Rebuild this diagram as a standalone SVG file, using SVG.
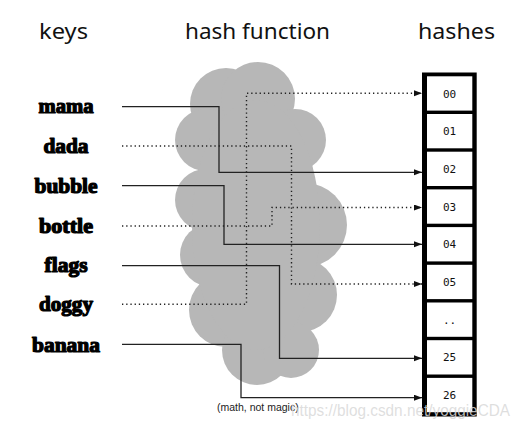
<svg xmlns="http://www.w3.org/2000/svg" width="521" height="428" viewBox="0 0 521 428">
<style>
.title{font-family:"Noto Sans","DejaVu Sans",sans-serif;font-size:21px;fill:#111;}
.key{font-family:"Liberation Serif","DejaVu Serif",serif;font-weight:bold;font-size:20px;fill:#000;stroke:#000;stroke-width:1.2px;stroke-linejoin:round;text-anchor:middle;}
.hash{font-family:"DejaVu Sans Mono","Liberation Mono",monospace;font-size:11px;fill:#111;text-anchor:middle;}
.solid{fill:none;stroke:#222;stroke-width:1.3;marker-end:url(#arr);}
.dot{fill:none;stroke:#222;stroke-width:1.4;stroke-dasharray:1.3 2.9;marker-end:url(#arr);}
.cloud{fill:#b7b7b7;}
.cell{fill:#fff;}
.note{font-family:"Liberation Sans",Arial,sans-serif;font-size:10.5px;fill:#222;}
.wm{font-family:"Liberation Sans",Arial,sans-serif;font-size:16px;fill:#d9d9d9;fill-opacity:0.85;}
</style>
<defs>
<marker id="arr" markerUnits="userSpaceOnUse" markerWidth="9" markerHeight="7" refX="8" refY="3" orient="auto">
<path d="M0,0 L8,3 L0,6 z" fill="#111"/>
</marker>
</defs>
<rect width="521" height="428" fill="#fff"/>
<g id="titles">
<text class="title" x="39" y="39" textLength="49" lengthAdjust="spacingAndGlyphs">keys</text>
<text class="title" x="185" y="39" textLength="145" lengthAdjust="spacingAndGlyphs">hash function</text>
<text class="title" x="418" y="39" textLength="77" lengthAdjust="spacingAndGlyphs">hashes</text>
</g>
<g id="cloud" class="cloud">
<circle cx="226" cy="104" r="36"/>
<circle cx="258" cy="99" r="37"/>
<circle cx="206" cy="140" r="31"/>
<circle cx="295" cy="140" r="31"/>
<circle cx="206" cy="200" r="31"/>
<circle cx="305" cy="225" r="42"/>
<circle cx="212" cy="255" r="32"/>
<circle cx="300" cy="295" r="37"/>
<circle cx="226" cy="310" r="37"/>
<circle cx="257" cy="350" r="35"/>
<circle cx="291" cy="350" r="28"/>
<ellipse cx="256" cy="225" rx="64" ry="125"/>
</g>
<g id="keys">
<text id="k-mama" class="key" x="66" y="113" textLength="55" lengthAdjust="spacingAndGlyphs">mama</text>
<text id="k-dada" class="key" x="66" y="153" textLength="45" lengthAdjust="spacingAndGlyphs">dada</text>
<text id="k-bubble" class="key" x="66" y="193" textLength="63" lengthAdjust="spacingAndGlyphs">bubble</text>
<text id="k-bottle" class="key" x="66" y="233" textLength="54" lengthAdjust="spacingAndGlyphs">bottle</text>
<text id="k-flags" class="key" x="66" y="272" textLength="43" lengthAdjust="spacingAndGlyphs">flags</text>
<text id="k-doggy" class="key" x="66" y="311" textLength="54" lengthAdjust="spacingAndGlyphs">doggy</text>
<text id="k-banana" class="key" x="66" y="352" textLength="68" lengthAdjust="spacingAndGlyphs">banana</text>
</g>
<g id="hashes">
<rect x="422" y="72.5" width="54.7" height="344" fill="#000"/>
<g id="h00"><rect class="cell" x="427" y="76.3" width="45.3" height="34.3"/><text class="hash" x="449.6" y="97.5">00</text></g>
<g id="h01"><rect class="cell" x="427" y="114" width="45.3" height="34.3"/><text class="hash" x="449.6" y="135.2">01</text></g>
<g id="h02"><rect class="cell" x="427" y="151.7" width="45.3" height="34.3"/><text class="hash" x="449.6" y="172.9">02</text></g>
<g id="h03"><rect class="cell" x="427" y="189.4" width="45.3" height="34.3"/><text class="hash" x="449.6" y="210.6">03</text></g>
<g id="h04"><rect class="cell" x="427" y="227.1" width="45.3" height="34.3"/><text class="hash" x="449.6" y="248.3">04</text></g>
<g id="h05"><rect class="cell" x="427" y="264.8" width="45.3" height="34.3"/><text class="hash" x="449.6" y="286">05</text></g>
<g id="hdots"><rect class="cell" x="427" y="302.5" width="45.3" height="34.3"/><text class="hash" x="449.6" y="323.7">..</text></g>
<g id="h25"><rect class="cell" x="427" y="340.2" width="45.3" height="34.3"/><text class="hash" x="449.6" y="361.4">25</text></g>
<g id="h26"><rect class="cell" x="427" y="377.9" width="45.3" height="34.3"/><text class="hash" x="449.6" y="399.1">26</text></g>
</g>
<g id="connectors">
<path class="solid" d="M122,106.7 H219 V172.3 H422"/>
<path class="dot" d="M122,146 H291.5 V284 H422"/>
<path class="solid" d="M122,185.7 H224 V244.3 H422"/>
<path class="dot" d="M122,226 H272 V207.5 H422"/>
<path class="solid" d="M122,265.7 H279.5 V358.3 H422"/>
<path class="dot" d="M122,304.3 H246.5 V93.3 H422"/>
<path class="solid" d="M122,344.3 H241 V397.7 H422"/>
</g>
<text class="note" x="217" y="411">(math, not magic)</text>
<text class="wm" x="291" y="416" textLength="219" lengthAdjust="spacingAndGlyphs">https://blog.csdn.net/yoggieCDA</text>
</svg>
